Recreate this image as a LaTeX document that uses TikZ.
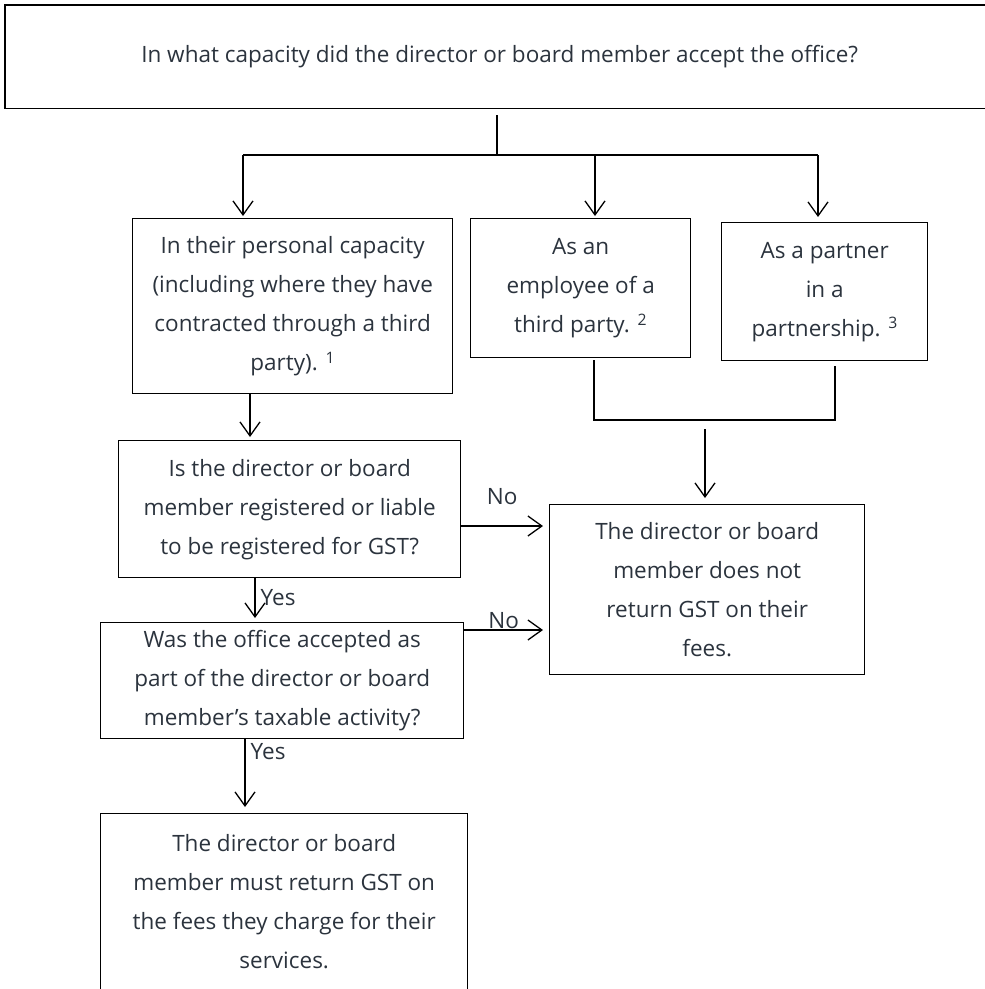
\documentclass[tikz,border=0pt]{standalone}
\usepackage{fontspec}
\setmainfont{Open Sans}
\usepackage{tikz}
\usetikzlibrary{arrows.meta, positioning}
\definecolor{inktext}{HTML}{2B333D}
\tikzstyle{box} = [rectangle, draw=black, line width=1.4pt, text=inktext, anchor=north west,
    align=center, inner sep=0pt, font=\fontsize{22.5}{39}\selectfont]
\tikzstyle{line} = [draw, line width=1.3pt, -{Straight Barb[length=14pt, width=20pt, line width=1.3pt]}]
\tikzstyle{plain} = [draw, line width=1.3pt]
\tikzstyle{answer} = [text=inktext, inner sep=1pt, font=\fontsize{22.5}{24}\selectfont]

\begin{document}
\begin{tikzpicture}[x=1pt, y=-1pt]
    \useasboundingbox (0,0) rectangle (985,989);
    \clip (0,0) rectangle (985,989);
    % Place nodes
    \node [box, draw=none, minimum width=1000pt, minimum height=102pt] (capacity) at (5,5)
        {In what capacity did the director or board member accept the office?\hspace*{12pt}};
    \node [box, minimum width=320pt, minimum height=175pt] (personal) at (132,218)
        {In their personal capacity\\(including where they have\\contracted through a third\\party). \textsuperscript{1}};
    \node [box, minimum width=220pt, minimum height=139pt] (employee) at (470,218)
        {As an\\employee of a\\third party. \textsuperscript{2}};
    \node [box, minimum width=206pt, minimum height=138pt] (partner) at (721,222)
        {As a partner\\in a\\partnership. \textsuperscript{3}};
    \node [box, minimum width=342pt, minimum height=137pt] (registered) at (118,440)
        {Is the director or board\\member registered or liable\\to be registered for GST?};
    \node [box, minimum width=315pt, minimum height=170pt] (noreturn) at (549,504)
        {The director or board\\member does not\\return GST on their\\fees.};
    \node [box, minimum width=363pt, minimum height=116pt] (taxable) at (100,622)
        {Was the office accepted as\\part of the director or board\\member’s taxable activity?};
    \node [box, minimum width=367pt, minimum height=176pt] (mustreturn) at (100,813)
        {The director or board\\member must return GST on\\the fees they charge for their\\services.};

    % Top box runs off the page on the right
    \path [plain, line width=1.4pt] (capacity.north east) -- (capacity.north west)
        -- (capacity.south west) -- (capacity.south east);

    % Helper points
    \coordinate (stem) at (497,115);
    \coordinate (split) at (497,155);
    \coordinate (splitL) at (243,155);
    \coordinate (splitM) at (595,155);
    \coordinate (splitR) at (818,155);
    \coordinate (joinL) at (594,420);
    \coordinate (joinR) at (835,420);
    \coordinate (joinout) at (705,429);

    % Draw edges
    \path [plain] (stem) -- (split);
    \path [plain] (splitL) -- (splitR);
    \path [line] (splitL) -- ([yshift=2pt]splitL |- personal.north);
    \path [line] (splitM) -- ([yshift=2pt]splitM |- employee.north);
    \path [line] (splitR) -- ([yshift=5pt]splitR |- partner.north);
    \path [plain] (joinL |- employee.south) ++(0,2) -- (joinL) -- (joinR) -- ([yshift=-5pt]joinR |- partner.south);
    \path [line] (joinout) -- ([yshift=6pt]joinout |- noreturn.north);
    \path [line] (250,393) -- ([yshift=3pt]250,0 |- registered.north);
    \path [line] (registered.east |- 0,526) -- node [answer, above=20pt] {No} ([xshift=-6pt]noreturn.west |- 0,526);
    \path [line] (255,577) -- node [answer, right=4pt] {Yes} ([yshift=4pt]255,0 |- taxable.north);
    \path [line] (taxable.east |- 0,630) -- node [answer, above=0pt] {No} ([xshift=-6pt]noreturn.west |- 0,630);
    \path [line] (245,738) -- node [answer, pos=0.2, right=4pt] {Yes} ([yshift=6pt]245,0 |- mustreturn.north);
\end{tikzpicture}
\end{document}
